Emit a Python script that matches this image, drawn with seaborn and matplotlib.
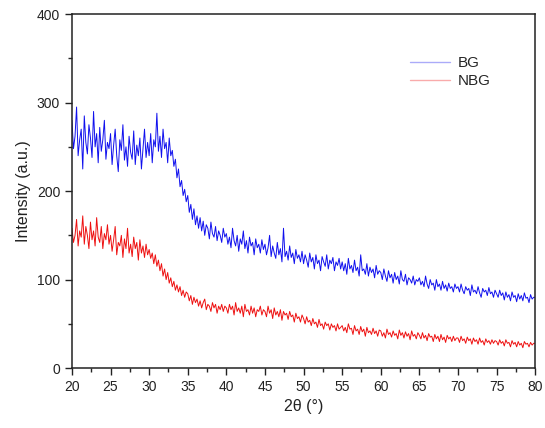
import numpy as np
import pandas as pd
import matplotlib
matplotlib.use("Agg")
import matplotlib.pyplot as plt
import seaborn as sns
from matplotlib.lines import Line2D
from matplotlib.ticker import MultipleLocator

two_theta = [round(20 + 0.2 * i, 2) for i in range(301)]

bg = [
    280, 248, 262, 295, 240, 258, 270, 225, 285, 255, 242, 275, 260, 238, 290, 250, 265, 232, 272, 245, 258, 280, 236, 255, 248,
    265, 230, 252, 270, 240, 222, 258, 246, 275, 235, 250, 228, 262, 244, 236, 268, 230, 252, 240, 260, 225, 248, 270, 238, 255,
    240, 265, 232, 258, 250, 288, 245, 262, 238, 270, 248, 255, 232, 260, 240, 246, 228, 236, 215, 225, 205, 212, 195, 202, 188,
    195, 176, 185, 168, 180, 162, 172, 158, 170, 155, 166, 150, 162, 158, 146, 165, 152, 148, 160, 144, 155, 150, 142, 158, 148,
    152, 140, 148, 136, 158, 144, 138, 150, 132, 146, 140, 155, 135, 144, 130, 148, 138, 142, 128, 146, 136, 140, 130, 145, 134,
    140, 128, 136, 150, 126, 138, 130, 124, 142, 128, 135, 120, 158, 126, 132, 122, 138, 125, 130, 118, 134, 124, 128, 120, 132,
    118, 128, 122, 114, 130, 120, 125, 112, 128, 118, 122, 110, 126, 120, 115, 128, 112, 122, 118, 125, 110, 120, 116, 124, 112,
    120, 110, 118, 106, 124, 112, 116, 108, 122, 110, 114, 104, 128, 110, 112, 106, 118, 104, 114, 108, 112, 102, 116, 106, 110,
    108, 100, 112, 104, 98, 110, 102, 106, 96, 108, 100, 104, 95, 110, 100, 98, 106, 94, 102, 100, 96, 104, 94, 100, 98,
    102, 94, 98, 92, 104, 95, 90, 100, 94, 96, 88, 100, 92, 95, 88, 98, 90, 94, 87, 96, 90, 92, 86, 95, 90,
    92, 86, 95, 88, 84, 92, 88, 90, 82, 94, 86, 88, 84, 92, 85, 80, 90, 86, 88, 82, 91, 84, 86, 80, 88,
    84, 80, 88, 82, 85, 77, 86, 80, 83, 76, 86, 80, 82, 75, 84, 78, 82, 76, 85, 79, 80, 74, 83, 78, 80,
    80,
]

nbg = [
    158, 142, 150, 168, 138, 155, 148, 172, 140, 160, 150, 135, 165, 145, 155, 138, 170, 148, 142, 160, 135, 152, 145, 162, 140,
    150, 132, 145, 160, 128, 142, 138, 150, 125, 146, 135, 158, 130, 140, 126, 148, 135, 142, 122, 145, 130, 138, 125, 140, 128,
    134, 124, 130, 118, 128, 115, 122, 110, 118, 104, 112, 100, 108, 96, 102, 92, 98, 88, 94, 86, 92, 82, 88, 80, 86,
    84, 76, 82, 72, 80, 74, 78, 70, 76, 68, 74, 78, 66, 72, 70, 64, 74, 68, 72, 62, 70, 66, 72, 64, 70,
    68, 62, 72, 66, 70, 60, 74, 64, 68, 62, 70, 58, 72, 64, 66, 60, 70, 62, 68, 58, 66, 64, 70, 60, 66,
    64, 58, 70, 62, 66, 56, 68, 60, 64, 58, 66, 54, 64, 60, 62, 55, 64, 58, 60, 52, 62, 56, 58, 52, 60,
    56, 50, 58, 52, 54, 48, 56, 50, 52, 46, 55, 48, 50, 44, 52, 48, 50, 43, 50, 46, 48, 42, 50, 44, 46,
    48, 42, 46, 40, 50, 44, 45, 38, 48, 42, 44, 38, 47, 41, 44, 36, 46, 40, 42, 38, 45, 39, 42, 36, 43,
    42, 36, 40, 34, 44, 38, 40, 35, 42, 37, 39, 33, 43, 37, 40, 34, 41, 36, 39, 32, 42, 36, 38, 33, 40,
    37, 33, 40, 34, 37, 31, 39, 35, 36, 30, 38, 33, 36, 30, 38, 32, 35, 29, 37, 33, 35, 30, 36, 31, 34,
    34, 29, 36, 31, 33, 28, 35, 31, 33, 27, 34, 30, 32, 27, 34, 29, 31, 26, 33, 29, 31, 27, 32, 28, 31,
    30, 26, 32, 28, 30, 25, 32, 28, 29, 24, 31, 27, 29, 24, 30, 26, 28, 23, 30, 27, 28, 24, 29, 26, 28,
    28,
]

series_names = ["BG", "NBG"]
series_colors = ["#1010ee", "#ee1010"]

sns.set_style("ticks")
plt.rcParams["font.family"] = ["Liberation Sans", "DejaVu Sans"]

df = pd.DataFrame({
    "x": two_theta[:len(bg)] + two_theta[:len(nbg)],
    "y": bg + nbg,
    "s": ["BG"] * len(bg) + ["NBG"] * len(nbg),
})

fig = plt.figure(figsize=(5.45, 4.28), dpi=100)
ax = fig.add_axes([0.132, 0.140, 0.850, 0.827])
sns.lineplot(data=df, x="x", y="y", hue="s", palette=dict(zip(series_names, series_colors)),
             linewidth=0.7, ax=ax, legend=False, estimator=None, sort=False)

ax.set_xlim(20, 80)
ax.set_ylim(0, 400)
ax.xaxis.set_major_locator(MultipleLocator(5))
ax.xaxis.set_minor_locator(MultipleLocator(2.5))
ax.yaxis.set_major_locator(MultipleLocator(100))
ax.yaxis.set_minor_locator(MultipleLocator(50))
ax.tick_params(which="major", direction="out", length=5, width=1, labelsize=10, colors="#222222")
ax.tick_params(which="minor", direction="out", length=3, width=1)
for s in ax.spines.values():
    s.set_linewidth(1.1)
    s.set_color("#222222")
ax.set_xlabel("2θ (°)", fontsize=11.5, color="#222222")
ax.set_ylabel("Intensity (a.u.)", fontsize=11.5, color="#222222")

handles = [Line2D([], [], color=c, lw=1, alpha=0.35) for c in series_colors]
ax.legend(handles, series_names, loc="upper left", bbox_to_anchor=(0.70, 0.92),
          frameon=False, fontsize=11, handlelength=2.6, labelspacing=0.25, handletextpad=0.5)

fig.savefig("out.png", dpi=100)
